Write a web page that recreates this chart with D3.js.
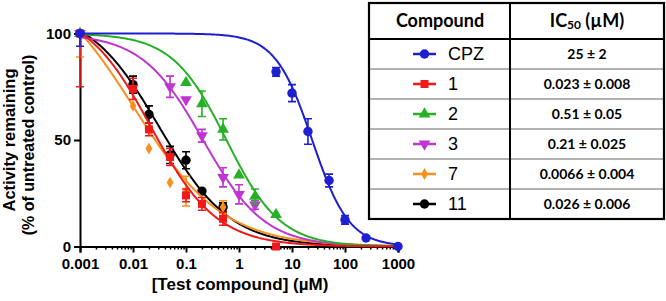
<!DOCTYPE html>
<html>
<head>
<meta charset="utf-8">
<script src="https://cdn.jsdelivr.net/npm/d3@7"></script>
<style>
  body { margin: 0; background: #fff; }
  text { font-family: "Liberation Sans", Arial, sans-serif; }
  .tbl { font-family: Lato, "Open Sans", sans-serif; font-weight: bold; }
</style>
</head>
<body>
<svg id="chart" width="666" height="301"></svg>
<script>
// table order
var compounds = ["CPZ", "1", "2", "3", "7", "11"];
var ic50Labels = ["25 \u00b1 2", "0.023 \u00b1 0.008", "0.51 \u00b1 0.05", "0.21 \u00b1 0.025", "0.0066 \u00b1 0.004", "0.026 \u00b1 0.006"];
var colors = ["#1f1fd2", "#f01a1a", "#27b027", "#c035d2", "#f7901e", "#000000"];
var shapes = ["circle", "square", "triangle", "triangleDown", "diamond", "circle"];

// measured points (dose in uM, % activity remaining, error)
var doseCPZ = [0.001, 5, 10, 20, 50, 100, 250, 1000];
var respCPZ = [100, 82, 72, 54, 31, 12.5, 4, 0];
var errCPZ = [6, 2, 4, 6, 3, 2, 0, 0];

var dose1 = [0.001, 0.01, 0.02, 0.05, 0.1, 0.2, 0.5, 5];
var resp1 = [100, 74, 55, 42, 24, 20, 13, 0];
var err1 = [25, 5, 3, 4, 3, 3, 3, 0];

var dose2 = [0.001, 0.1, 0.2, 0.5, 1, 2, 5];
var resp2 = [100, 77, 67, 55, 33.5, 23.5, 15];
var err2 = [0, 0, 6, 5, 0, 3.5, 0];

var dose3 = [0.001, 0.05, 0.1, 0.2, 0.5, 1, 2];
var resp3 = [100, 75, 69, 52, 32.5, 24.5, 19.5];
var err3 = [0, 5, 0, 3, 4.5, 4.5, 2];

var dose7 = [0.001, 0.01, 0.02, 0.05, 0.1, 0.2, 0.5];
var resp7 = [100, 66, 46, 30, 26, 20, 18.5];
var err7 = [11, 0, 0, 0, 7, 0, 3];

var dose11 = [0.001, 0.01, 0.02, 0.05, 0.1, 0.2, 0.5];
var resp11 = [100, 76, 62, 43, 40.5, 26, 18.5];
var err11 = [0, 4, 4, 4, 4, 0, 2];

// fitted dose-response curves: top, midpoint (uM), hill slope
var fitTop = [100, 112, 100, 100, 130, 112];
var fitMid = [24, 0.022, 0.58, 0.21, 0.0106, 0.0315];
var fitHill = [1.25, 0.7, 0.85, 0.75, 0.52, 0.65];

var xTicks = [0.001, 0.01, 0.1, 1, 10, 100, 1000];
var xTickLabels = ["0.001", "0.01", "0.1", "1", "10", "100", "1000"];
var yTicks = [0, 50, 100];

var doses = [doseCPZ, dose1, dose2, dose3, dose7, dose11];
var resps = [respCPZ, resp1, resp2, resp3, resp7, resp11];
var errs = [errCPZ, err1, err2, err3, err7, err11];

var svg = d3.select("#chart");

var x = d3.scaleLog().domain([0.001, 1000]).range([80, 398]);
var y = d3.scaleLinear().domain([0, 100]).range([246.5, 33.5]);

function symbolPath(shape, size) {
    var t = { circle: d3.symbolCircle, square: d3.symbolSquare, triangle: d3.symbolTriangle,
              triangleDown: d3.symbolTriangle, diamond: d3.symbolDiamond }[shape];
    return d3.symbol().type(t).size(size)();
}
var symSize = { circle: 70, square: 64, triangle: 60, triangleDown: 60, diamond: 40 };

// axes
var xMinor = x.ticks().filter(function (v) { return xTicks.indexOf(v) < 0; });
svg.append("g").attr("transform", "translate(0,246.5)")
    .call(d3.axisBottom(x).tickValues(xMinor).tickSize(3).tickFormat(""))
    .call(function (g) { g.select(".domain").remove(); g.selectAll("line").attr("stroke-width", 1.5); });
var xAxis = svg.append("g").attr("transform", "translate(0,246.5)")
    .call(d3.axisBottom(x).tickValues(xTicks).tickSize(6).tickPadding(6)
        .tickFormat(function (d, i) { return xTickLabels[i]; }));
xAxis.select(".domain").attr("stroke-width", 2);
xAxis.selectAll("line").attr("stroke-width", 2);
xAxis.selectAll("text").attr("font-size", 15).attr("font-weight", "bold").attr("fill", "#000");

var yAxis = svg.append("g").attr("transform", "translate(80,0)")
    .call(d3.axisLeft(y).tickValues(yTicks).tickSize(6).tickPadding(3).tickSizeOuter(0));
yAxis.select(".domain").attr("stroke-width", 2);
yAxis.selectAll("line").attr("stroke-width", 2);
yAxis.selectAll("text").attr("font-size", 15).attr("font-weight", "bold").attr("fill", "#000");

svg.append("text").attr("x", 240).attr("y", 290).attr("text-anchor", "middle")
    .attr("font-size", 17).attr("font-weight", "bold").text("[Test compound] (\u00b5M)");
svg.append("text").attr("transform", "translate(15,140) rotate(-90)").attr("text-anchor", "middle")
    .attr("font-size", 16.5).attr("font-weight", "bold").text("Activity remaining");
svg.append("text").attr("transform", "translate(34,145) rotate(-90)").attr("text-anchor", "middle")
    .attr("font-size", 16).attr("font-weight", "bold").text("(% of untreated control)");

// series, black drawn first and CPZ last
var order = [5, 4, 3, 2, 1, 0];
var line = d3.line().x(function (d) { return x(d[0]); }).y(function (d) { return y(d[1]); });
var logGrid = d3.range(-3, 3.001, 0.02);

order.forEach(function (i) {
    var g = svg.append("g");
    var col = colors[i];
    var curve = logGrid.map(function (lx) {
        var c = Math.pow(10, lx);
        return [c, fitTop[i] / (1 + Math.pow(c / fitMid[i], fitHill[i]))];
    });
    g.append("path").attr("d", line(curve)).attr("fill", "none")
        .attr("stroke", col).attr("stroke-width", 2);

    doses[i].forEach(function (d, k) {
        var e = errs[i][k];
        if (!e) return;
        var top = y(Math.min(100, resps[i][k] + e)), bot = y(resps[i][k] - e), px = x(d);
        g.append("path")
            .attr("d", "M" + (px - 4) + "," + top + "H" + (px + 4) + "M" + px + "," + top +
                       "V" + bot + "M" + (px - 4) + "," + bot + "H" + (px + 4))
            .attr("stroke", col).attr("stroke-width", 1.6).attr("fill", "none");
    });

    g.selectAll(".pt").data(doses[i]).enter().append("path")
        .attr("d", symbolPath(shapes[i], symSize[shapes[i]]))
        .attr("transform", function (d, k) {
            return "translate(" + x(d) + "," + y(resps[i][k]) + ")" + (shapes[i] === "triangleDown" ? " rotate(180)" : "");
        })
        .attr("fill", col);
});

// table
var tblLeft = 369, tblRight = 664, colSplit = 510, tblTop = 3, headBottom = 39, tblBottom = 219;
var row = d3.scaleBand().domain(compounds).range([headBottom, tblBottom]);
var tbl = svg.append("g");

compounds.forEach(function (c, i) {
    var cy = row(c) + row.bandwidth() / 2;
    if (i > 0) {
        tbl.append("line").attr("x1", tblLeft).attr("x2", tblRight)
            .attr("y1", row(c)).attr("y2", row(c)).attr("stroke", "#666").attr("stroke-width", 1.2);
    }
    tbl.append("line").attr("x1", 413).attr("x2", 436).attr("y1", cy).attr("y2", cy)
        .attr("stroke", colors[i]).attr("stroke-width", 2.5);
    tbl.append("path").attr("d", symbolPath(shapes[i], symSize[shapes[i]]))
        .attr("transform", "translate(424.5," + cy + ")" + (shapes[i] === "triangleDown" ? " rotate(180)" : ""))
        .attr("fill", colors[i]);
    tbl.append("text").attr("x", 448).attr("y", cy).attr("dy", "0.36em")
        .attr("font-size", 18).text(c);
    tbl.append("text").attr("class", "tbl").attr("x", 587).attr("y", cy).attr("dy", "0.36em")
        .attr("text-anchor", "middle").attr("font-size", 14).text(ic50Labels[i]);
});

tbl.append("line").attr("x1", tblLeft).attr("x2", tblRight).attr("y1", headBottom).attr("y2", headBottom)
    .attr("stroke", "#000").attr("stroke-width", 2);
tbl.append("line").attr("x1", colSplit).attr("x2", colSplit).attr("y1", tblTop).attr("y2", tblBottom)
    .attr("stroke", "#000").attr("stroke-width", 2);
tbl.append("rect").attr("x", tblLeft).attr("y", tblTop).attr("width", tblRight - tblLeft)
    .attr("height", tblBottom - tblTop).attr("fill", "none").attr("stroke", "#000").attr("stroke-width", 2.2);

var headY = (tblTop + headBottom) / 2;
tbl.append("text").attr("class", "tbl").attr("x", 440).attr("y", headY).attr("dy", "0.36em")
    .attr("text-anchor", "middle").attr("font-size", 18).text("Compound");
var h2 = tbl.append("text").attr("class", "tbl").attr("x", 587).attr("y", headY).attr("dy", "0.36em")
    .attr("text-anchor", "middle").attr("font-size", 18);
h2.append("tspan").text("IC");
h2.append("tspan").attr("font-size", 12).attr("dy", 2).text("50");
h2.append("tspan").attr("dy", -2).text(" (\u00b5M)");
</script>
</body>
</html>
